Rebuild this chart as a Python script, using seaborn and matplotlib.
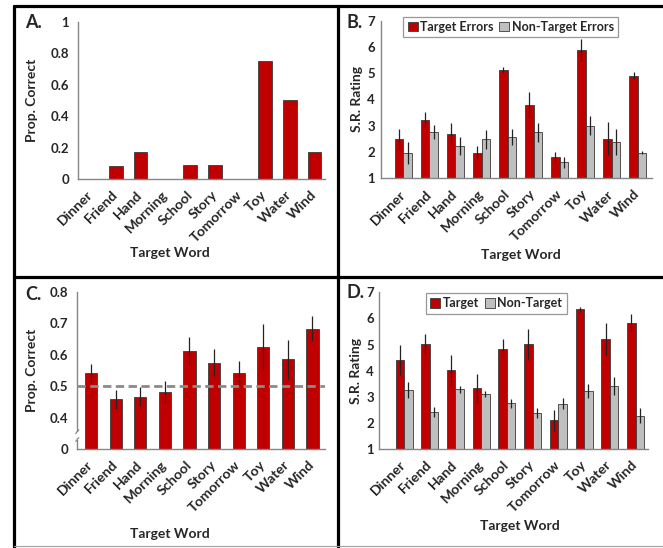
import numpy as np
import pandas as pd
import matplotlib
matplotlib.use("Agg")
import matplotlib.pyplot as plt
import seaborn as sns
from matplotlib.lines import Line2D
from matplotlib.patches import Patch, Rectangle

# 目標詞
words = ['Dinner', 'Friend', 'Hand', 'Morning', 'School',
         'Story', 'Tomorrow', 'Toy', 'Water', 'Wind']

# A. 正確率
a_correct = [0, 0.08, 0.17, 0, 0.09, 0.09, 0, 0.75, 0.5, 0.17]

# B. S.R. rating (target errors / non-target errors)
b_target = [2.48, 3.22, 2.69, 1.97, 5.12, 3.79, 1.82, 5.88, 2.50, 4.91]
b_target_err = [0.40, 0.32, 0.40, 0.25, 0.13, 0.48, 0.20, 0.42, 0.63, 0.12]
b_nontarget = [1.97, 2.77, 2.23, 2.48, 2.56, 2.75, 1.61, 3.00, 2.39, 1.97]
b_nontarget_err = [0.42, 0.26, 0.35, 0.35, 0.30, 0.37, 0.20, 0.37, 0.50, 0.06]

# C. 正確率 (含誤差)
c_correct = [0.540, 0.458, 0.466, 0.482, 0.611, 0.574, 0.540, 0.624, 0.585, 0.682]
c_err = [0.030, 0.030, 0.030, 0.035, 0.045, 0.043, 0.040, 0.074, 0.063, 0.040]
chance = 0.5

# D. S.R. rating (target / non-target)
d_target = [4.42, 5.02, 4.01, 3.32, 4.83, 5.03, 2.10, 6.35, 5.21, 5.82]
d_target_err = [0.58, 0.37, 0.60, 0.55, 0.40, 0.58, 0.40, 0.10, 0.62, 0.35]
d_nontarget = [3.25, 2.42, 3.29, 3.10, 2.75, 2.37, 2.74, 3.22, 3.41, 2.28]
d_nontarget_err = [0.30, 0.18, 0.14, 0.12, 0.17, 0.20, 0.20, 0.26, 0.36, 0.30]

RED = '#C00000'
GRAY = '#BFBFBF'
EDGE = '#3a3a3a'
AXIS = '#868686'

sns.set_style('white')
plt.rcParams['font.family'] = ['Lato', 'DejaVu Sans']
plt.rcParams['font.weight'] = 'bold'
plt.rcParams['axes.labelweight'] = 'bold'

W, H = 663, 548
fig = plt.figure(figsize=(W / 100, H / 100), dpi=100)


def px_axes(left, right, bottom, top):
    return fig.add_axes([left / W, 1 - bottom / H, (right - left) / W, (bottom - top) / H])


def style_axis(ax, xlab_pos, ylab_x, ypad=4):
    for s in ['top', 'right']:
        ax.spines[s].set_visible(False)
    for s in ['left', 'bottom']:
        ax.spines[s].set_color(AXIS)
        ax.spines[s].set_linewidth(1.0)
    ax.tick_params(axis='y', direction='out', length=2.5, color=AXIS, labelsize=9.5, pad=ypad)
    ax.tick_params(axis='x', length=0, labelsize=10.2, pad=10, labelrotation=45)
    for lab in ax.get_xticklabels():
        lab.set_ha('right')
        lab.set_va('center')
        lab.set_rotation_mode('anchor')
        lab.set_fontweight('bold')
    for lab in ax.get_yticklabels():
        lab.set_fontweight('bold')
    ax.set_xlabel('Target Word', fontsize=10)
    ax.xaxis.set_label_coords(*xlab_pos)
    ax.yaxis.set_label_coords(ylab_x, 0.5)


def add_errors(ax, container, errs):
    xs = [b.get_x() + b.get_width() / 2 for b in container]
    ys = [b.get_height() for b in container]
    ax.errorbar(xs, ys, yerr=errs, fmt='none', ecolor='#222222', elinewidth=0.9, capsize=0)


def make_legend(ax, labels, anchor):
    handles = [Patch(facecolor=RED, edgecolor=EDGE, lw=0.6),
               Patch(facecolor=GRAY, edgecolor=EDGE, lw=0.6)]
    leg = ax.legend(handles, labels, loc='upper center', bbox_to_anchor=anchor, ncol=2,
                    fontsize=9, frameon=True, fancybox=False, handlelength=0.8,
                    handleheight=0.8, handletextpad=0.2, columnspacing=0.45,
                    borderpad=0.35, borderaxespad=0)
    leg.get_frame().set_edgecolor('#7f7f7f')
    leg.get_frame().set_linewidth(0.9)


# ---- A ----
axA = px_axes(78, 325, 179, 21.7)
dfA = pd.DataFrame({'word': words, 'val': a_correct})
sns.barplot(data=dfA, x='word', y='val', color=RED, saturation=1, width=0.55,
            edgecolor=EDGE, linewidth=0.6, ax=axA)
axA.set_ylim(0, 1)
axA.set_xlim(-0.52, 9.42)
axA.set_yticks([0, 0.2, 0.4, 0.6, 0.8, 1])
axA.set_yticklabels(['0', '0.2', '0.4', '0.6', '0.8', '1'])
axA.set_ylabel('Prop. Correct', fontsize=10)
style_axis(axA, (0.37, -0.43), -0.16)

# ---- B ----
axB = px_axes(380.7, 651.7, 178.3, 20.7)
dfB = pd.DataFrame({'word': words * 2,
                    'val': b_target + b_nontarget,
                    'type': ['Target Errors'] * 10 + ['Non-Target Errors'] * 10})
sns.barplot(data=dfB, x='word', y='val', hue='type', palette=[RED, GRAY], saturation=1,
            width=0.66, edgecolor=EDGE, linewidth=0.6, ax=axB, legend=False)
add_errors(axB, axB.containers[0], b_target_err)
add_errors(axB, axB.containers[1], b_nontarget_err)
axB.set_ylim(1, 7)
axB.set_xlim(-0.87, 9.53)
axB.set_yticks(range(1, 8))
axB.set_ylabel('S.R. Rating', fontsize=10)
style_axis(axB, (0.518, -0.45), -0.066, ypad=1.5)
make_legend(axB, ['Target Errors', 'Non-Target Errors'], (0.48, 1.026))

# ---- C ----
axC = px_axes(77.3, 325, 449, 291.7)
dfC = pd.DataFrame({'word': words, 'val': c_correct})
sns.barplot(data=dfC, x='word', y='val', color=RED, saturation=1, width=0.5,
            edgecolor=EDGE, linewidth=0.6, ax=axC)
add_errors(axC, axC.containers[0], c_err)
axC.axhline(chance, color='#8a8a8a', lw=2.0, dashes=(3, 1.6), zorder=5)
axC.set_ylim(0.3, 0.8)
axC.set_xlim(-0.56, 9.51)
axC.set_yticks([0.3, 0.4, 0.5, 0.6, 0.7, 0.8])
axC.set_yticklabels(['0', '0.4', '0.5', '0.6', '0.7', '0.8'])
axC.set_ylabel('Prop. Correct', fontsize=10)
style_axis(axC, (0.374, -0.5), -0.157)
# y軸斷軸記號
axC.add_patch(Rectangle((-0.02, 0.33), 0.04, 0.025, transform=axC.get_yaxis_transform(),
                        facecolor='white', edgecolor='none', clip_on=False, zorder=6))
t = np.linspace(0, 1, 20)
for y0 in (0.33, 0.355):
    axC.plot(-0.006 + 0.012 * t, y0 - 0.006 + 0.012 * t ** 2 + 0.004 * np.sin(t * np.pi),
             transform=axC.get_yaxis_transform(), color=AXIS, lw=0.9, clip_on=False, zorder=7)

# ---- D ----
axD = px_axes(379.3, 648, 449, 292.3)
dfD = pd.DataFrame({'word': words * 2,
                    'val': d_target + d_nontarget,
                    'type': ['Target'] * 10 + ['Non-Target'] * 10})
sns.barplot(data=dfD, x='word', y='val', hue='type', palette=[RED, GRAY], saturation=1,
            width=0.66, edgecolor=EDGE, linewidth=0.6, ax=axD, legend=False)
add_errors(axD, axD.containers[0], d_target_err)
add_errors(axD, axD.containers[1], d_nontarget_err)
axD.set_ylim(1, 7)
axD.set_xlim(-0.96, 9.48)
axD.set_yticks(range(1, 8))
axD.set_ylabel('S.R. Rating', fontsize=10)
style_axis(axD, (0.524, -0.45), -0.066, ypad=1.5)
make_legend(axD, ['Target', 'Non-Target'], (0.435, 0.995))

# 面板字母
for txt, x, y in [('A.', 25, 23), ('B.', 346, 23), ('C.', 25, 295), ('D.', 346, 292)]:
    fig.text(x / W, 1 - y / H, txt, fontsize=13, fontweight='bold', ha='left', va='center')

# 外框線
lw_frame = 2.3
X0, Y0 = 13.5 / W, 1 - 5.5 / H
XM, YM = 337.5 / W, 1 - 276.5 / H
fig.add_artist(Line2D([X0, 1], [Y0, Y0], color='black', lw=lw_frame))
fig.add_artist(Line2D([X0, X0], [0, Y0], color='black', lw=lw_frame))
fig.add_artist(Line2D([XM, XM], [0, Y0], color='black', lw=lw_frame))
fig.add_artist(Line2D([X0, 1], [YM, YM], color='black', lw=lw_frame))
fig.add_artist(Line2D([X0, 1], [1.8 / H, 1.8 / H], color='#a0a0a0', lw=0.8))

fig.savefig('out.png', dpi=100)
